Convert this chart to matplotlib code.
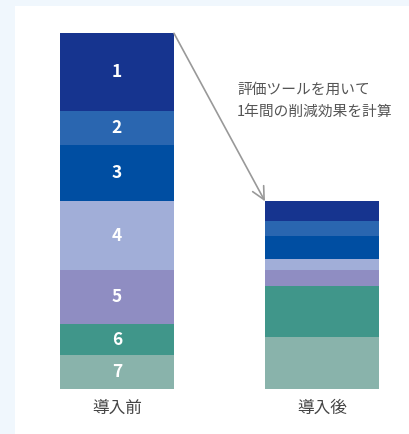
import matplotlib.pyplot as plt
from matplotlib.patches import Rectangle

plt.rcParams['font.family'] = ['Noto Sans CJK JP', 'DejaVu Sans']

# data (bottom to top: 7 -> 1)
seg_labels = ['7', '6', '5', '4', '3', '2', '1']
before = [33.7, 31, 54, 69, 56, 34, 78]
after = [51.7, 51, 16, 11, 23, 15, 20]
colors = ['#89b3ab', '#40968a', '#8f8dc2', '#a1aed8', '#004ea2', '#2a66b0', '#16348f']
categories = ['導入前', '導入後']
note = '評価ツールを用いて\n1年間の削減効果を計算'

fig = plt.figure(figsize=(4.1, 4.34), dpi=100)
fig.patch.set_facecolor('#f0f7fd')
fig.patches.append(Rectangle((15 / 410, 0), 1, 1 - 6 / 434, transform=fig.transFigure,
                             facecolor='white', edgecolor='none', zorder=-5))

ax = fig.add_axes([0, 0, 1, 1])
ax.set_facecolor('none')
ax.set_xlim(0, 410)
ax.set_ylim(-45, 389)
ax.axis('off')

xpos = [117, 322]
w = 114
bottoms = [0, 0]
for lab, b, a, c in zip(seg_labels, before, after, colors):
    ax.bar(xpos, [b, a], width=w, bottom=bottoms, color=c, edgecolor='none')
    ax.text(xpos[0], bottoms[0] + b / 2, lab, ha='center', va='center',
            color='white', fontsize=12.5, fontweight='bold')
    bottoms = [bottoms[0] + b, bottoms[1] + a]

for x, cat in zip(xpos, categories):
    ax.text(x, -19, cat, ha='center', va='center', fontsize=12, color='#444444')

ax.annotate('', xy=(xpos[1] - w / 2, bottoms[1]), xytext=(xpos[0] + w / 2, bottoms[0]),
            arrowprops=dict(arrowstyle='->,head_length=0.9,head_width=0.45',
                            color='#999999', lw=1.2, shrinkA=0, shrinkB=0))

ax.text(237, 288, note, ha='left', va='center', fontsize=10.6, color='#555555',
        linespacing=1.75)

fig.savefig('out.png', dpi=100)
